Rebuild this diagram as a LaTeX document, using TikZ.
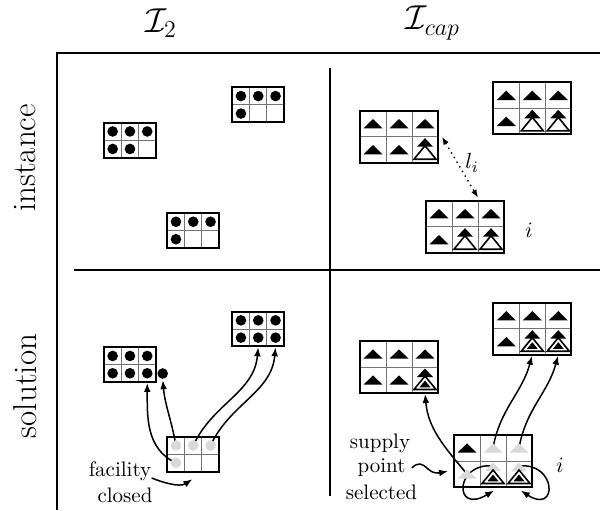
\documentclass[tikz,border=0pt]{standalone}
\usetikzlibrary{arrows.meta,calc}
\colorlet{lg}{black!15}
\tikzset{
  frameline/.style={line width=0.7pt},
  outerbox/.style={draw, rectangle, line width=0.9pt, inner sep=0pt, outer sep=0pt},
  innerline/.style={draw=black!55, line width=0.5pt},
  conn/.style={line width=0.75pt, -{Latex[length=4.5pt,width=3.4pt]}, shorten >=0.5pt},
  lbl/.style={font=\fontsize{10.5}{12.25}\selectfont, inner sep=0pt},
  big/.style={font=\fontsize{16.5}{20}\selectfont, inner sep=0pt},
  mlbl/.style={font=\fontsize{11}{13}\selectfont, inner sep=0pt},
}
% grid box: name, left, top, cell width, cell height (px units)
\newcommand\gridbox[5]{%
  \foreach \cc in {1,2,3}{%
    \foreach \rr in {1,2}{\coordinate (#1-\rr\cc) at ({#2+(\cc-0.5)*#4},{#3+(\rr-0.5)*#5});}
    \coordinate (#1-b\cc) at ({#2+(\cc-0.5)*#4},{#3+2*#5});
    \coordinate (#1-t\cc) at ({#2+(\cc-0.5)*#4},{#3});
  }
  \draw[innerline] ({#2+#4},{#3}) -- ++(0,{2*#5}) ({#2+2*#4},{#3}) -- ++(0,{2*#5}) ({#2},{#3+#5}) -- ++({3*#4},0);
  \node[outerbox, anchor=north west, minimum width={3*#4*0.5pt}, minimum height={2*#5*0.5pt}] (#1) at (#2,#3) {};
}
\newcommand\bdot[1]{\fill (#1) circle (5.3);}
\newcommand\gdot[1]{\fill[lg] (#1) circle (5.3);}
\newcommand\btri[1]{\fill ($(#1)+(-9.5,4.7)$) -- ++(19,0) -- ++(-9.5,-9.4) -- cycle;}
\newcommand\gtri[1]{\fill[lg] ($(#1)+(-9.5,4.7)$) -- ++(19,0) -- ++(-9.5,-9.4) -- cycle;}
\newcommand\rtri[2]{\fill[#2] ($(#1)+(-8,-3)$) -- ++(16,0) -- ++(-8,-8.5) -- cycle;}
\newcommand\wtri[1]{\filldraw[fill=white, line width=0.8pt] ($(#1)+(-11,9.5)$) -- ++(22,0) -- ++(-11,-13.5) -- cycle;}
\newcommand\ntri[1]{\wtri{#1}\fill ($(#1)+(-5.5,7.25)$) -- ++(11,0) -- ++(-5.5,-6.75) -- cycle;}
\newcommand\stk[1]{\rtri{#1}{black}\wtri{#1}}
\newcommand\nstk[2]{\rtri{#1}{#2}\ntri{#1}}

\begin{document}
\begin{tikzpicture}[x=0.5pt,y=-0.5pt]
\useasboundingbox (0,0) rectangle (600,510);

% headers
\node[big] (h1) at (161,23) {$\mathcal{I}_2$};
\node[big] (h2) at (433,23) {$\mathcal{I}_{cap}$};
\node[big, rotate=90] (r1) at (25,158) {instance};
\node[big, rotate=90] (r2) at (25,386) {solution};

% frame
\draw[frameline] (57,510) -- (57,53) -- (600,53);
\draw[frameline] (74,270) -- (600,270);
\draw[frameline] (330,68) -- (330,496);

% boxes
\gridbox{A}{104}{122.7}{17.3}{17.5}
\gridbox{B}{232.3}{87.3}{17.3}{17.5}
\gridbox{C}{167.3}{213}{17.3}{17.5}
\gridbox{D}{104}{347.3}{17.3}{17.3}
\gridbox{E}{232.3}{311.7}{17.3}{17.3}
\gridbox{F}{167.3}{436.7}{17.3}{17.5}
\gridbox{G}{360}{110.7}{26}{26}
\gridbox{H}{493.3}{82.3}{26}{26}
\gridbox{J}{426}{200.7}{26}{26}
\gridbox{K}{360}{341}{26}{26}
\gridbox{L}{493.3}{302.7}{26}{26}
\gridbox{M}{454}{435}{26}{26}

\node[circle, fill, inner sep=0pt, minimum size=5.3pt] (xd) at (162.7,373.5) {};

% labels
\node[mlbl] (li) at (472,163) {$l_i$};
\node[mlbl] (i1) at (529,230) {$i$};
\node[mlbl] (i2) at (560,465) {$i$};
\node[lbl] (fac1) at (120,471) {facility};
\node[lbl] (fac2) at (125,495) {closed};
\node[lbl] (sp1) at (380,443) {supply};
\node[lbl] (sp2) at (381.5,468) {point};
\node[lbl] (sp3) at (381.5,492) {selected};

\coordinate (Gr) at ($(G.east)+(4,0)$);
\coordinate (Jt) at ($(J.north)+(13,-3)$);
\coordinate (fcl) at ($(F-b2)+(0,7)$);
\coordinate (spt) at ($(M.west)+(-5,10)$);
\coordinate (lp1) at ($(M-b2)+(2,3)$);
\coordinate (lp2) at ($(M-b3)+(1,3)$);
\coordinate (lp1s) at ($(M-22)+(0,-8)$);
\coordinate (lp2s) at ($(M-23)+(0,-8)$);

% connectors
\draw[line width=0.7pt, dotted, {Latex[length=4pt,width=3pt]}-{Latex[length=4pt,width=3pt]}] (Gr) -- (Jt);
\draw[conn] (F-21) to[out=155, in=-90] (D-b3);
\draw[conn] (F-11) to[out=100, in=-85] (xd.south);
\draw[conn] (F-12) to[out=65, in=-95] (E-b2);
\draw[conn] (F-13) to[out=65, in=-95] (E-b3);
\draw[conn] ([yshift=-3.5pt]fac1.east) .. controls +(10,4) and +(-14,9) .. (fcl);

\draw[conn] (M-21) to[out=130, in=-85] (K-b3);
\draw[conn] (M-12) to[out=80, in=-105] (L-b2);
\draw[conn] (M-13) to[out=80, in=-105] (L-b3);
\draw[conn] (lp1s) .. controls +(-38,-4) and +(-42,25) .. (lp1);
\draw[conn] (lp2s) .. controls +(38,-4) and +(38,25) .. (lp2);
\draw[conn] ([xshift=3pt]sp2.east) .. controls +(6,-6) and +(-6,-6) .. (428,469) .. controls +(5,5) and +(-10,2) .. (spt);

% contents
\foreach \p in {A-11,A-12,A-13,A-21,A-22, B-11,B-12,B-13,B-21, C-11,C-12,C-13,C-21,
  D-11,D-12,D-13,D-21,D-22,D-23, E-11,E-12,E-13,E-21,E-22,E-23}{\bdot{\p}}
\foreach \p in {F-11,F-12,F-13,F-21}{\gdot{\p}}

\foreach \p in {G-11,G-12,G-13,G-21,G-22, H-11,H-12,H-13,H-21, J-11,J-12,J-13,J-21,
  K-11,K-12,K-13,K-21,K-22, L-11,L-12,L-13,L-21, M-11}{\btri{\p}}
\foreach \p in {G-23,H-22,H-23,J-22,J-23}{\stk{\p}}
\foreach \p in {K-23,L-22,L-23}{\nstk{\p}{black}}
\foreach \p in {M-12,M-13,M-21}{\gtri{\p}}
\foreach \p in {M-22,M-23}{\nstk{\p}{lg}}
\end{tikzpicture}
\end{document}
